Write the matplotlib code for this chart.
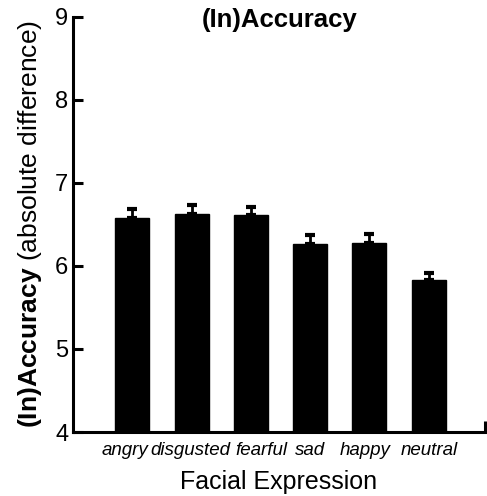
import matplotlib
matplotlib.use("Agg")
import matplotlib.pyplot as plt
from matplotlib.ticker import FixedLocator
from matplotlib.transforms import ScaledTranslation

plt.rcParams['font.family'] = ['Liberation Sans', 'DejaVu Sans']
plt.rcParams['mathtext.fontset'] = 'custom'
plt.rcParams['mathtext.rm'] = 'Liberation Sans'
plt.rcParams['mathtext.bf'] = 'Liberation Sans:bold'

categories = ["angry", "disgusted", "fearful", "sad", "happy", "neutral"]
values = [6.58, 6.63, 6.61, 6.26, 6.28, 5.83]
errors = [0.10, 0.10, 0.10, 0.11, 0.10, 0.09]
yticks = [4, 5, 6, 7, 8, 9]

fig = plt.figure(figsize=(4.87, 4.96), dpi=100)
ax = fig.add_axes([0.150, 0.129, 0.846, 0.837])

x = list(range(len(categories)))
ax.bar(x, values, width=0.575, color='black', edgecolor='black', zorder=2)
ax.errorbar(x, values, yerr=[[0] * len(values), errors], fmt='none',
            ecolor='black', elinewidth=2, capsize=3.5, capthick=3, zorder=3)

ax.set_xlim(-1.0, 5.95)
ax.set_ylim(4, 9)
ax.set_yticks(yticks)
ax.set_yticklabels([str(t) for t in yticks])
ax.set_xticks(x)
ax.set_xticklabels(categories, fontstyle='italic', fontsize=13.5)
ax.tick_params(axis='x', length=0, pad=7)
ax.tick_params(axis='y', direction='in', length=7, width=2.2, labelsize=17, pad=3.5)
ax.xaxis.set_minor_locator(FixedLocator([5.95]))
ax.tick_params(axis='x', which='minor', direction='in', length=8, width=2.2)

# small horizontal offsets of category labels as in the reference layout
offsets_px = [-7, -1, 10, 0, -4, 1]
for lab, dx in zip(ax.get_xticklabels(), offsets_px):
    lab.set_transform(lab.get_transform() + ScaledTranslation(dx / 100, 0, fig.dpi_scale_trans))

for s in ['top', 'right']:
    ax.spines[s].set_visible(False)
for s in ['left', 'bottom']:
    ax.spines[s].set_linewidth(2.2)

ax.set_xlabel("Facial Expression", fontsize=18, labelpad=8)
ax.set_ylabel(r"$\mathbf{(In)Accuracy}$ (absolute difference)", fontsize=19, labelpad=8)
fig.text(0.574, 0.960, "(In)Accuracy", fontsize=18.5, fontweight='bold',
         ha='center', va='center')

fig.savefig("out.png", dpi=100)
